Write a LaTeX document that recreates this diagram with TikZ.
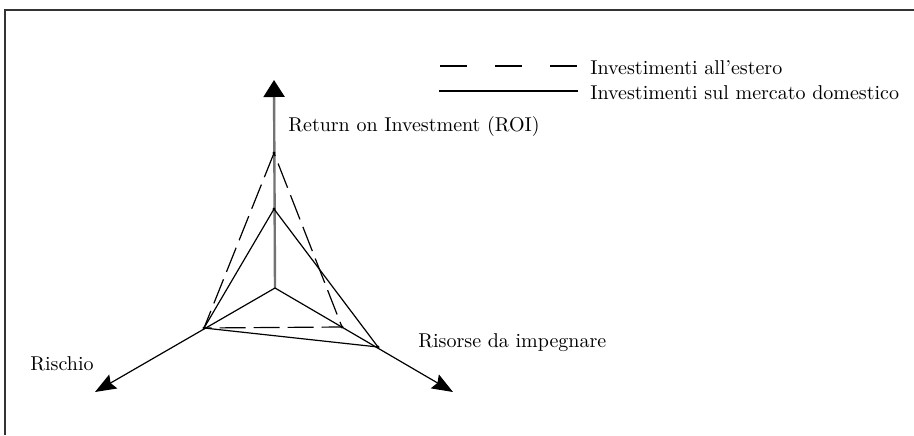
\documentclass[tikz,border=0pt]{standalone}
\usepackage{tikz}
\usetikzlibrary{arrows.meta}

\tikzset{
  axis/.style={line width=0.6pt,-{Stealth[length=10.5pt,width=8pt,inset=1.5pt]}},
  roiaxis/.style={black!55,line width=1.2pt,-{Triangle[length=8.5pt,width=10.5pt,color=black]}},
  solidside/.style={line width=0.6pt},
  dashside/.style={line width=0.6pt,dash pattern=on 13pt off 4pt},
  vdot/.style={fill=black,circle,inner sep=0pt,minimum size=1.6pt},
  lab/.style={inner sep=0pt,font=\fontsize{10}{12}\selectfont}
}

\begin{document}
\begin{tikzpicture}[x=0.5pt,y=0.5pt]
\useasboundingbox (0,0) rectangle (914,435);
% frame
\draw[black!80,line width=0.6pt] (5,0) -- (5,425) -- (914,425);
% axes
\coordinate (O) at (275,147);
\coordinate (roiTip) at (274,355);
\coordinate (risTip) at (95,43);
\coordinate (resTip) at (453,43);
\draw[roiaxis] (O) -- (roiTip);
\draw[axis] (O) -- (risTip);
\draw[axis] (O) -- (resTip);
% vertices
\coordinate (roiD) at (274,282);
\coordinate (roiS) at (274,226);
\coordinate (risV) at (204,107);
\coordinate (resD) at (342,108);
\coordinate (resS) at (378,88);
% domestic market (solid)
\draw[solidside] (roiS) -- (risV) -- (resS) -- cycle;
% foreign (dashed)
\draw[dashside] (roiD) -- (risV) -- (resD) -- cycle;
\foreach \p in {roiD,roiS,risV,resD,resS}
  \node[vdot] at (\p) {};
% labels
\node[lab,anchor=base west] (roiLab) at (288,304) {Return on Investment (ROI)};
\node[lab,anchor=base west] (risLab) at (30,65) {Rischio};
\node[lab,anchor=base west] (resLab) at (418,88) {Risorse da impegnare};
% legend
\coordinate (legDa) at (440,369);
\coordinate (legDb) at (578,369);
\coordinate (legSa) at (439,344);
\coordinate (legSb) at (578,344);
\draw[line width=0.6pt,dash pattern=on 13.5pt off 14pt] (legDa) -- (legDb);
\draw[line width=0.6pt] (legSa) -- (legSb);
\node[lab,anchor=base west] (legD) at (590,361) {Investimenti all'estero};
\node[lab,anchor=base west] (legS) at (590,336) {Investimenti sul mercato domestico};
\end{tikzpicture}
\end{document}
